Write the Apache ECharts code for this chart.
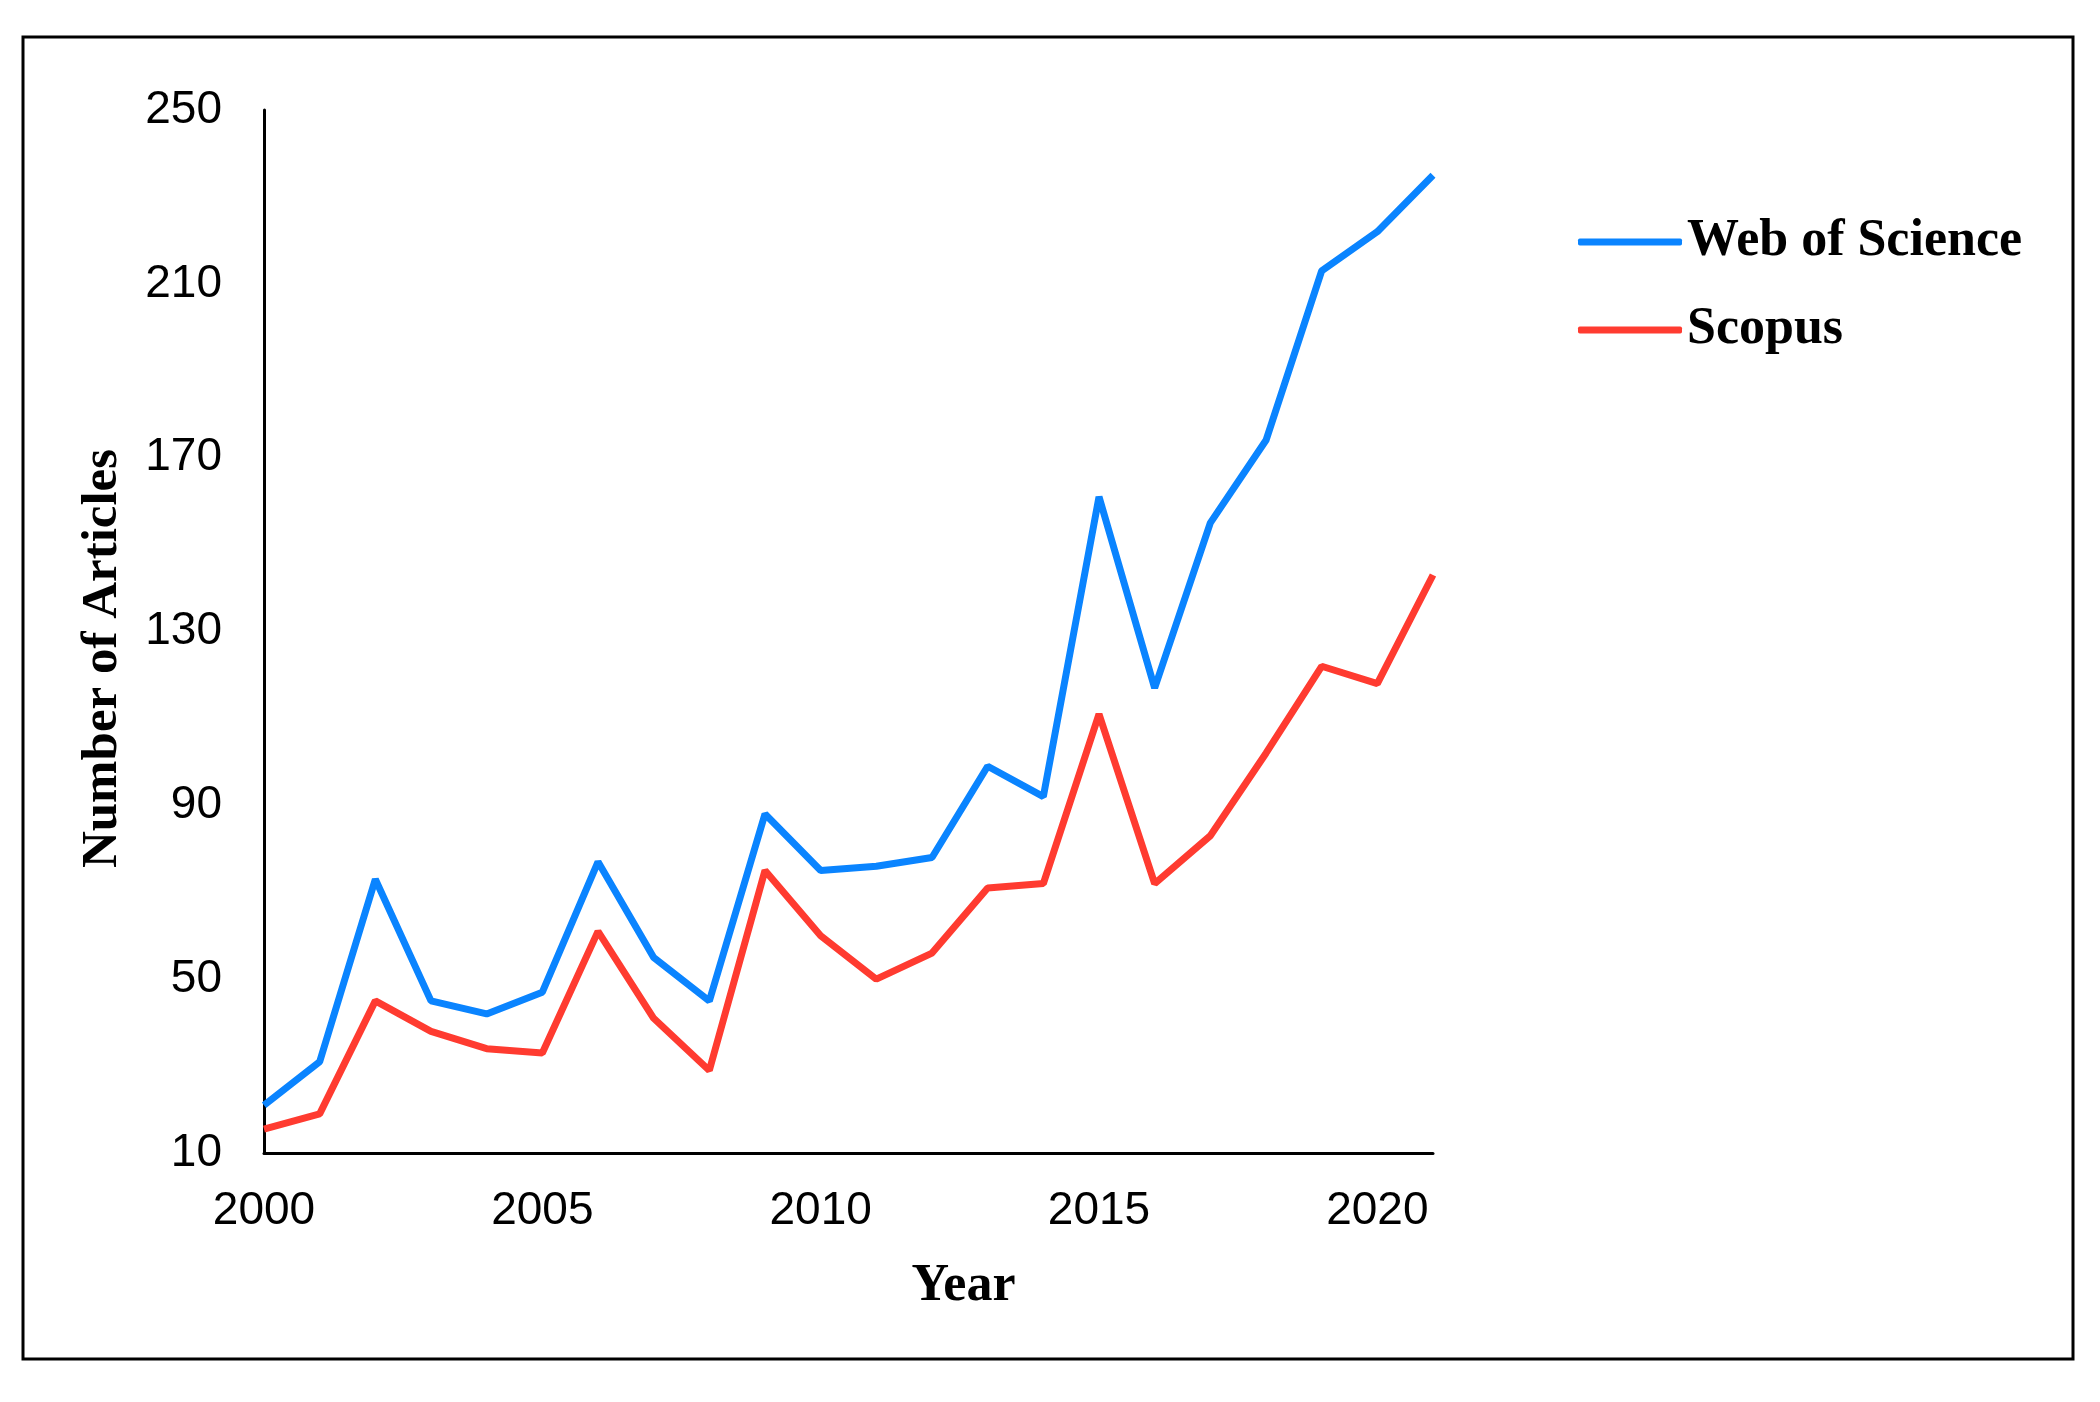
<!DOCTYPE html>
<html>
<head>
<meta charset="utf-8">
<script src="https://cdn.jsdelivr.net/npm/echarts@6/dist/echarts.min.js"></script>
<style>
html,body{margin:0;padding:0;background:#fff;}
#chart{width:2100px;height:1402px;}
</style>
</head>
<body>
<div id="chart"></div>
<script>
const years = ['2000','2001','2002','2003','2004','2005','2006','2007','2008','2009','2010','2011','2012','2013','2014','2015','2016','2017','2018','2019','2020','2021'];
const webOfScience = [21, 31, 73, 45, 42, 47, 77, 55, 45, 88, 75, 76, 78, 99, 92, 161, 117, 155, 174, 213, 222, 235];
const scopus = [15.5, 19, 45, 38, 34, 33, 61, 41, 29, 75, 60, 50, 56, 71, 72, 111, 72, 83, 102, 122, 118, 143];
const yTicks = [10, 50, 90, 130, 170, 210, 250];

const chart = echarts.init(document.getElementById('chart'), null, {renderer:'canvas'});
const serif = '"Liberation Serif", "Times New Roman", serif';
const sans = '"Liberation Sans", Arial, sans-serif';
chart.setOption({
  animation: false,
  backgroundColor: '#ffffff',
  graphic: [{
    type: 'rect',
    shape: {x: 23, y: 37, width: 2050, height: 1322},
    style: {fill: 'none', stroke: '#000', lineWidth: 3},
    silent: true
  }],
  grid: {left: 264, right: 667, top: 110, bottom: 249, containLabel: false},
  legend: {
    orient: 'vertical',
    left: 1573,
    top: 211,
    itemWidth: 104,
    itemHeight: 7,
    itemGap: 36,
    icon: 'roundRect',
    textStyle: {fontFamily: serif, fontWeight: 'bold', fontSize: 52, color: '#000'},
    data: ['Web of Science', 'Scopus']
  },
  xAxis: {
    type: 'category',
    data: years,
    boundaryGap: false,
    name: 'Year',
    nameLocation: 'middle',
    nameGap: 108,
    nameTextStyle: {fontFamily: serif, fontWeight: 'bold', fontSize: 52, color: '#000', padding: [0,0,0,230]},
    axisLine: {lineStyle: {color: '#000', width: 3}},
    axisTick: {show: false},
    axisLabel: {interval: 4, fontFamily: sans, fontSize: 46, color: '#000', margin: 35},
    splitLine: {show: false}
  },
  yAxis: {
    type: 'value',
    min: yTicks[0],
    max: yTicks[yTicks.length - 1],
    interval: 40,
    name: 'Number of Articles',
    nameLocation: 'middle',
    nameGap: 136,
    nameRotate: 90,
    nameTextStyle: {fontFamily: serif, fontWeight: 'bold', fontSize: 51, color: '#000', padding: [0,54,0,0]},
    axisLine: {show: true, lineStyle: {color: '#000', width: 3}},
    axisTick: {show: false},
    axisLabel: {fontFamily: sans, fontSize: 46, color: '#000', margin: 42},
    splitLine: {show: false}
  },
  series: [
    {name: 'Web of Science', type: 'line', data: webOfScience, showSymbol: false, symbol: 'none',
     lineStyle: {color: '#0A84FF', width: 7}, itemStyle: {color: '#0A84FF'}},
    {name: 'Scopus', type: 'line', data: scopus, showSymbol: false, symbol: 'none',
     lineStyle: {color: '#FF3B30', width: 7}, itemStyle: {color: '#FF3B30'}}
  ]
});
</script>
</body>
</html>
